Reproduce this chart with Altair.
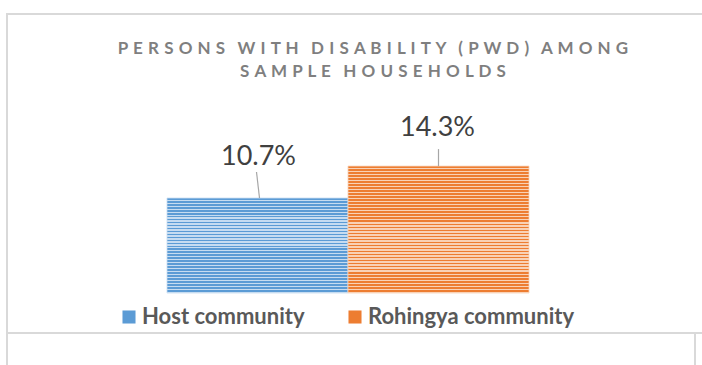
import altair as alt
import pandas as pd

categories = ["Host community", "Rohingya community"]
values = [10.7, 14.3]
labels = ["10.7%", "14.3%"]
colors = ["#5B9BD5", "#ED7D31"]
light_colors = ["#c6dcf1", "#f9d2b6"]

title_lines = ["PERSONS WITH DISABILITY (PWD) AMONG", "SAMPLE HOUSEHOLDS"]

df = pd.DataFrame({"cat": categories, "val": values, "lab": labels})

Y_DOMAIN = [0, 16]
Y_RANGE = [293, 151]
px_per_unit = (Y_RANGE[0] - Y_RANGE[1]) / (Y_DOMAIN[1] - Y_DOMAIN[0])

xs = alt.X("cat:N", scale=alt.Scale(domain=categories, range=[167, 529], paddingInner=0, paddingOuter=0), axis=None)
ys = alt.Y("val:Q", scale=alt.Scale(domain=Y_DOMAIN, range=Y_RANGE), axis=None)

def spaced(s):
    words = s.split(" ")
    return "\u00a0\u00a0\u00a0".join("\u00a0\u200a".join(list(w)) for w in words)

def stripes(dark, light, n):
    stops = []
    for i in range(n):
        a = i / n
        m = (i + 0.55) / n
        b = (i + 1) / n
        stops += [
            alt.GradientStop(offset=a, color=dark),
            alt.GradientStop(offset=m, color=dark),
            alt.GradientStop(offset=m, color=light),
            alt.GradientStop(offset=b, color=light),
        ]
    return alt.Gradient(gradient="linear", stops=stops, x1=0, x2=0, y1=0, y2=1)

base = alt.Chart(df)

label_dy = [-33, -30]
label_dx = [1, -1]
leader_len = [-26, -17]
leader_xo = [(2, -1), (0, 0)]

xc = alt.X("cat:N", scale=alt.Scale(domain=categories), axis=None, bandPosition=0.5)

layers = []
for i, c in enumerate(categories):
    n = max(1, round(values[i] * px_per_unit / 3))
    sub = base.transform_filter(alt.datum.cat == c)
    layers.append(
        sub.mark_bar(fill=stripes(colors[i], light_colors[i], n), stroke=light_colors[i], strokeWidth=0.8)
        .encode(x=xs, y=ys)
    )
    layers.append(
        sub.mark_rule(color="#a6a6a6", strokeWidth=1.2, y2Offset=leader_len[i],
                      xOffset=leader_xo[i][0], x2Offset=leader_xo[i][1])
        .encode(x=xc, x2=alt.X2("cat:N", bandPosition=0.5), y=ys, y2="val:Q")
    )
    layers.append(
        sub.mark_text(font="Lato", fontSize=27, color="#404040", baseline="alphabetic",
                      dy=label_dy[i], dx=label_dx[i])
        .encode(x=xc, y=ys, text="lab:N")
    )

legend_layer = base.mark_square(opacity=0).encode(
    x=xs, y=ys,
    color=alt.Color("cat:N", scale=alt.Scale(domain=categories, range=colors),
                    legend=alt.Legend(orient="none", legendX=118, legendY=306, direction="horizontal",
                                      symbolType="square", symbolSize=170, symbolOpacity=1,
                                      symbolStrokeWidth=0, labelFont="Lato", labelFontSize=22,
                                      labelFontWeight="bold", labelColor="#595959", labelLimit=400,
                                      columnPadding=39, labelOffset=2, title=None)),
)

title_df = pd.DataFrame({"t": [spaced(s) for s in title_lines], "row": [0, 1]})
title_layer = alt.Chart(title_df).mark_text(
    font="Lato", fontSize=17, fontWeight="bold", color="#7f7f7f", baseline="middle", align="center"
).encode(
    x=alt.value(373),
    y=alt.Y("row:Q", scale=alt.Scale(domain=[0, 1], range=[49, 72]), axis=None),
    text="t:N",
)

frame_color = "#d9d9d9"
frame = [
    alt.Chart(df).mark_rule(color=frame_color, strokeWidth=2).encode(x=alt.value(7), x2=alt.value(702), y=alt.value(14)),
    alt.Chart(df).mark_rule(color=frame_color, strokeWidth=2).encode(x=alt.value(7), y=alt.value(13), y2=alt.value(365)),
    alt.Chart(df).mark_rule(color=frame_color, strokeWidth=2).encode(x=alt.value(7), x2=alt.value(702), y=alt.value(333)),
    alt.Chart(df).mark_rule(color=frame_color, strokeWidth=2).encode(x=alt.value(695), y=alt.value(333), y2=alt.value(365)),
]

chart = alt.layer(*frame, *layers, legend_layer, title_layer).resolve_scale(y="independent").properties(
    width=702, height=365, autosize=alt.AutoSizeParams(type="none"), padding=0, background="white"
).configure_view(strokeWidth=0)

chart.save("out.html", embed_options={"renderer": "svg", "actions": False})
